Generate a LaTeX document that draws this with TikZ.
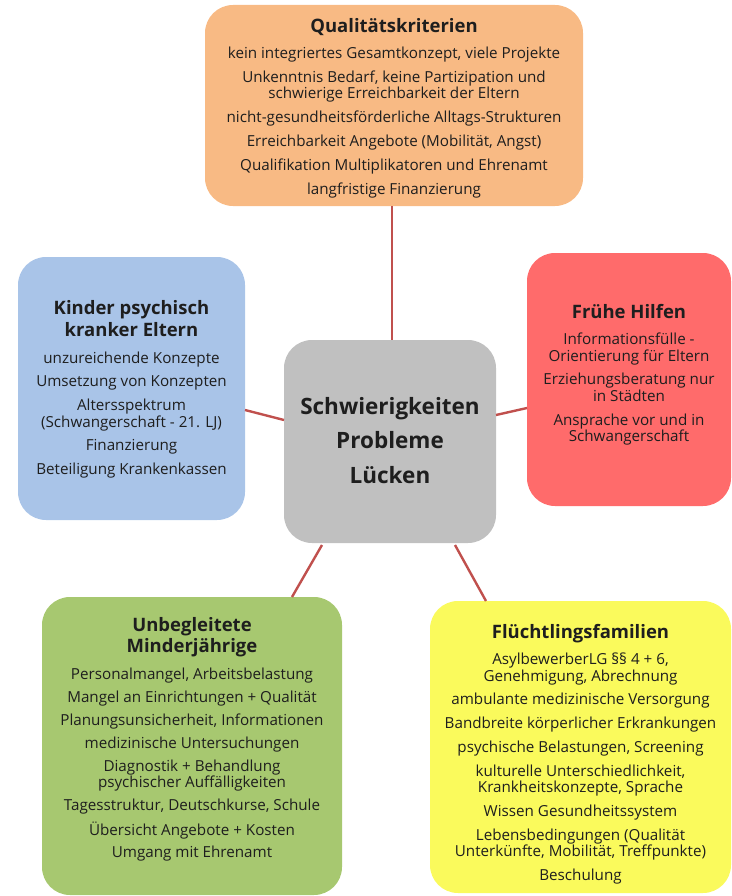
\documentclass[tikz,border=0pt]{standalone}
\usepackage{fontspec}
\setmainfont{Open Sans}
\definecolor{cOrange}{RGB}{248,186,132}
\definecolor{cBlue}{RGB}{169,196,232}
\definecolor{cGray}{RGB}{192,192,192}
\definecolor{cRed}{RGB}{255,107,107}
\definecolor{cGreen}{RGB}{167,200,112}
\definecolor{cYellow}{RGB}{250,250,92}
\definecolor{cLine}{RGB}{192,80,77}
\definecolor{cText}{RGB}{30,30,30}
\tikzset{
  box/.style={draw=none, rounded corners=28pt, inner sep=0pt},
  txt/.style={align=center, text=cText, inner sep=0pt, anchor=north,
    font=\fontsize{15.2}{16.4}\selectfont},
  link/.style={draw=cLine, line width=2.4pt},
}
\newcommand{\ttl}[1]{{\fontsize{18.5}{20}\selectfont\bfseries #1}}
\newcommand{\tg}{\\[10pt]}
\newcommand{\ig}{\\[7.4pt]}
\newcommand{\greengap}{\\[6.6pt]}
\begin{document}
\begin{tikzpicture}[x=1pt,y=-1pt]
\useasboundingbox (0,0) rectangle (731,896);
% boxes
\node[box, fill=cOrange, minimum width=378pt, minimum height=201pt] (q) at (394,105.5) {};
\node[box, fill=cBlue, minimum width=227pt, minimum height=263pt] (k) at (131.5,388.5) {};
\node[box, fill=cGray, minimum width=212pt, minimum height=203pt] (c) at (390,441.5) {};
\node[box, fill=cRed, minimum width=204pt, minimum height=253pt] (f) at (629,379.5) {};
\node[box, fill=cGreen, minimum width=300pt, minimum height=298pt] (u) at (192,746) {};
\node[box, fill=cYellow, minimum width=301pt, minimum height=292pt] (y) at (580.5,747) {};
% connectors
\coordinate (qb) at (392,206);
\coordinate (ct) at (392,340);
\draw[link] (q.south -| qb) -- (ct);
\draw[link] (245,410) coordinate (kr) -- (284,420) coordinate (cl);
\draw[link] (496,415) coordinate (cr) -- (527,408) coordinate (fl);
\draw[link] (322,545) coordinate (cbl) -- (292,597) coordinate (ut);
\draw[link] (455,545) coordinate (cbr) -- (486,601) coordinate (yt);
% texts
\node[txt] (qt) at (394,18) {\ttl{Qualitätskriterien}\tg
kein integriertes Gesamtkonzept, viele Projekte\ig
Unkenntnis Bedarf, keine Partizipation und\\
schwierige Erreichbarkeit der Eltern\ig
nicht-gesundheitsförderliche Alltags-Strukturen\ig
Erreichbarkeit Angebote (Mobilität, Angst)\ig
Qualifikation Multiplikatoren und Ehrenamt\ig
langfristige Finanzierung};
\node[txt] (kt) at (131.5,300) {\ttl{Kinder psychisch}\\[3pt] \ttl{kranker Eltern}\tg
unzureichende Konzepte\ig
Umsetzung von Konzepten\ig
Altersspektrum\\
(Schwangerschaft - 21. LJ)\ig
Finanzierung\ig
Beteiligung Krankenkassen};
\node[txt, font=\fontsize{22.5}{34.5}\selectfont\bfseries] (ctx) at (390,397) {Schwierigkeiten\\Probleme\\Lücken};
\node[txt] (ft) at (629,304) {\ttl{Frühe Hilfen}\tg
Informationsfülle -\\
Orientierung für Eltern\ig
Erziehungsberatung nur\\
in Städten\ig
Ansprache vor und in\\
Schwangerschaft};
\node[txt] (ut) at (192,617) {\ttl{Unbegleitete}\\[2pt] \ttl{Minderjährige}\tg
Personalmangel, Arbeitsbelastung\greengap
Mangel an Einrichtungen + Qualität\greengap
Planungsunsicherheit, Informationen\greengap
medizinische Untersuchungen\greengap
Diagnostik + Behandlung\\
psychischer Auffälligkeiten\greengap
Tagesstruktur, Deutschkurse, Schule\greengap
Übersicht Angebote + Kosten\\[5.6pt]
Umgang mit Ehrenamt};
\node[txt] (yt) at (580.5,624) {\ttl{Flüchtlingsfamilien}\tg
AsylbewerberLG §§ 4 + 6,\\
Genehmigung, Abrechnung\ig
ambulante medizinische Versorgung\ig
Bandbreite körperlicher Erkrankungen\ig
psychische Belastungen, Screening\ig
kulturelle Unterschiedlichkeit,\\
Krankheitskonzepte, Sprache\ig
Wissen Gesundheitssystem\ig
Lebensbedingungen (Qualität\\
Unterkünfte, Mobilität, Treffpunkte)\ig
Beschulung};
\end{tikzpicture}
\end{document}
